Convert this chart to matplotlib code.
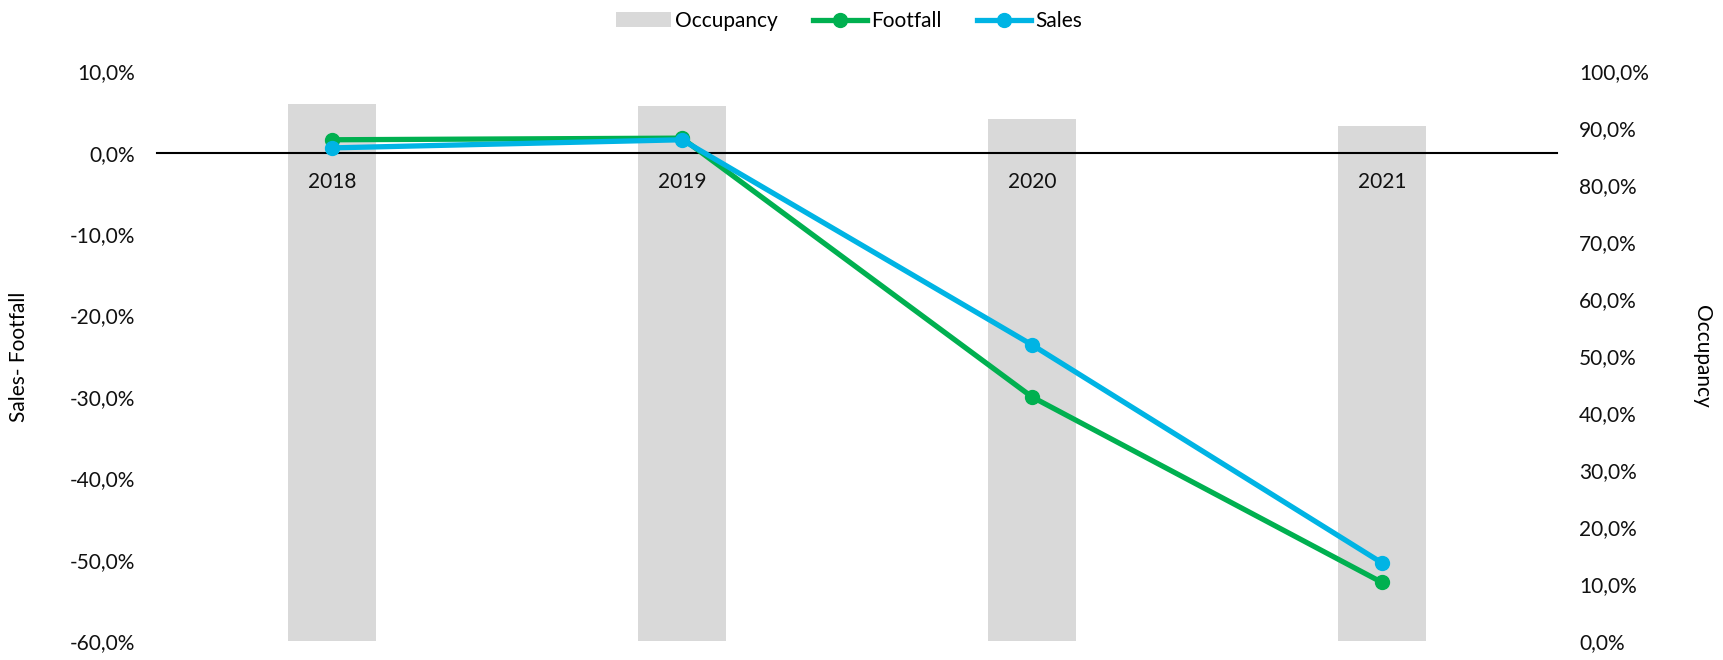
import matplotlib
matplotlib.use('Agg')
import numpy as np
import matplotlib.pyplot as plt
from matplotlib.ticker import FuncFormatter, MultipleLocator

# data
years = ['2018', '2019', '2020', '2021']
occupancy = [94.3, 94.0, 91.6, 90.5]   # right axis, %
footfall = [1.6, 1.8, -30.0, -52.8]     # left axis, %
sales = [0.6, 1.6, -23.6, -50.4]        # left axis, %

col_bar = '#D9D9D9'
col_foot = '#00B050'
col_sales = '#00B4E4'

plt.rcParams['font.family'] = ['Lato', 'DejaVu Sans']
fs = 15

fig = plt.figure(figsize=(17.23, 6.6), dpi=100)
ax = fig.add_axes([0.0911, 0.0288, 0.8125, 0.863])
ax2 = ax.twinx()

x = np.arange(len(years))

"""bars on the right axis, drawn behind the lines"""
ax2.bar(x, occupancy, width=0.25, color=col_bar, label='Occupancy')
ax2.set_ylim(0, 100)
ax2.yaxis.set_major_locator(MultipleLocator(10))

ax.set_zorder(ax2.get_zorder() + 1)
ax.patch.set_visible(False)

ax.plot(x, footfall, color=col_foot, lw=3.8, marker='o', ms=10, label='Footfall', zorder=3)
ax.plot(x, sales, color=col_sales, lw=3.8, marker='o', ms=10, label='Sales', zorder=4)
ax.set_ylim(-60, 10)
ax.set_xlim(-0.5, 3.5)
ax.yaxis.set_major_locator(MultipleLocator(10))

fmt = FuncFormatter(lambda v, p: ('%.1f%%' % v).replace('.', ','))
ax.yaxis.set_major_formatter(fmt)
ax2.yaxis.set_major_formatter(fmt)

"""category axis sits on zero"""
for s in ['top', 'left', 'right']:
    ax.spines[s].set_visible(False)
for s in ['top', 'left', 'right', 'bottom']:
    ax2.spines[s].set_visible(False)
ax.spines['bottom'].set_position(('data', 0))
ax.spines['bottom'].set_linewidth(1.5)
ax.spines['bottom'].set_color('black')
ax.set_xticks(x)
ax.set_xticklabels(years)
ax.tick_params(axis='x', length=0, pad=14, labelsize=fs, colors='#111111')
ax.tick_params(axis='y', length=0, pad=16, labelsize=fs, colors='#111111')
ax2.tick_params(axis='y', length=0, pad=16, labelsize=fs, colors='#111111')

fig.text(0.011, 0.46, 'Sales- Footfall', rotation=90, va='center', ha='center', fontsize=fs)
fig.text(0.988, 0.46, 'Occupancy', rotation=270, va='center', ha='center', fontsize=fs)

h1, l1 = ax2.get_legend_handles_labels()
h2, l2 = ax.get_legend_handles_labels()
fig.legend(h1 + h2, l1 + l2, loc='upper center', bbox_to_anchor=(0.493, 1.012),
           ncol=3, frameon=False, fontsize=fs, handlelength=2.6,
           handletextpad=0.2, columnspacing=1.7)

fig.savefig('out.png', dpi=100)
